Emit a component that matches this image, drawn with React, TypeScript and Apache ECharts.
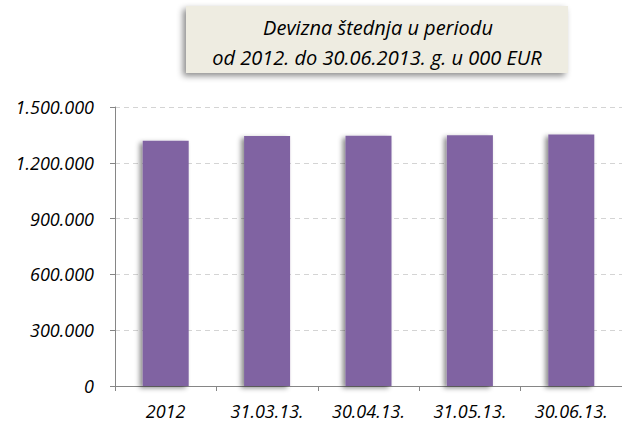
import React, { useEffect, useRef } from "react";
import * as echarts from "echarts";

const categories = ["2012", "31.03.13.", "30.04.13.", "31.05.13.", "30.06.13."];
const values = [1319000, 1344000, 1346000, 1348000, 1352000];
const titleLines = ["Devizna štednja u periodu", "od 2012. do 30.06.2013. g. u 000 EUR"];

const fmt = (v: number) => {
  const s = Math.round(v).toString();
  return s.replace(/\B(?=(\d{3})+(?!\d))/g, ".");
};

export default function App() {
  const ref = useRef<HTMLDivElement>(null);
  useEffect(() => {
    if (!ref.current) return;
    const chart = echarts.init(ref.current, undefined, { renderer: "svg" });
    const font = "'Open Sans', 'Noto Sans', sans-serif";
    chart.setOption({
      animation: false,
      graphic: [
        {
          type: "rect",
          shape: { x: 186, y: 6, width: 382, height: 67 },
          style: {
            fill: "#EEECE1",
            shadowBlur: 6,
            shadowOffsetX: -3,
            shadowOffsetY: 3,
            shadowColor: "rgba(0,0,0,0.45)",
          },
          z: 10,
        },
        {
          type: "text",
          x: 378,
          y: 27,
          style: {
            text: titleLines[0],
            font: `italic 20px ${font}`,
            fill: "#000",
            align: "center",
            verticalAlign: "middle",
          },
          z: 11,
        },
        {
          type: "text",
          x: 377,
          y: 57,
          style: {
            text: titleLines[1],
            font: `italic 20px ${font}`,
            fill: "#000",
            align: "center",
            verticalAlign: "middle",
          },
          z: 11,
        },
      ],
      grid: { left: 115, top: 107, width: 510, height: 279 },
      xAxis: {
        type: "category",
        data: categories,
        axisLine: { lineStyle: { color: "#868686", width: 1 } },
        axisTick: { show: true, alignWithLabel: false, length: 5, lineStyle: { color: "#868686" } },
        axisLabel: {
          color: "#000",
          fontStyle: "italic",
          fontFamily: font,
          fontSize: 18,
          lineHeight: 20,
          margin: 15,
        },
      },
      yAxis: {
        type: "value",
        min: 0,
        max: 1500000,
        interval: 300000,
        axisLine: { show: true, lineStyle: { color: "#868686", width: 1 } },
        axisTick: { show: true, length: 5, lineStyle: { color: "#868686" } },
        splitLine: { lineStyle: { color: "#d4d4d4", type: [5, 4] } },
        axisLabel: {
          color: "#000",
          fontStyle: "italic",
          fontFamily: font,
          fontSize: 18,
          margin: 21,
          formatter: (v: number) => fmt(v),
        },
      },
      series: [
        {
          type: "bar",
          data: values,
          barWidth: 46,
          itemStyle: {
            color: "#8064A2",
            shadowBlur: 5,
            shadowOffsetX: -3,
            shadowOffsetY: 2,
            shadowColor: "rgba(0,0,0,0.45)",
          },
        },
      ],
    });
    return () => chart.dispose();
  }, []);
  return (
    <div
      ref={ref}
      style={{ position: "fixed", left: 0, top: 0, width: 622, height: 423, background: "#fff" }}
    />
  );
}
